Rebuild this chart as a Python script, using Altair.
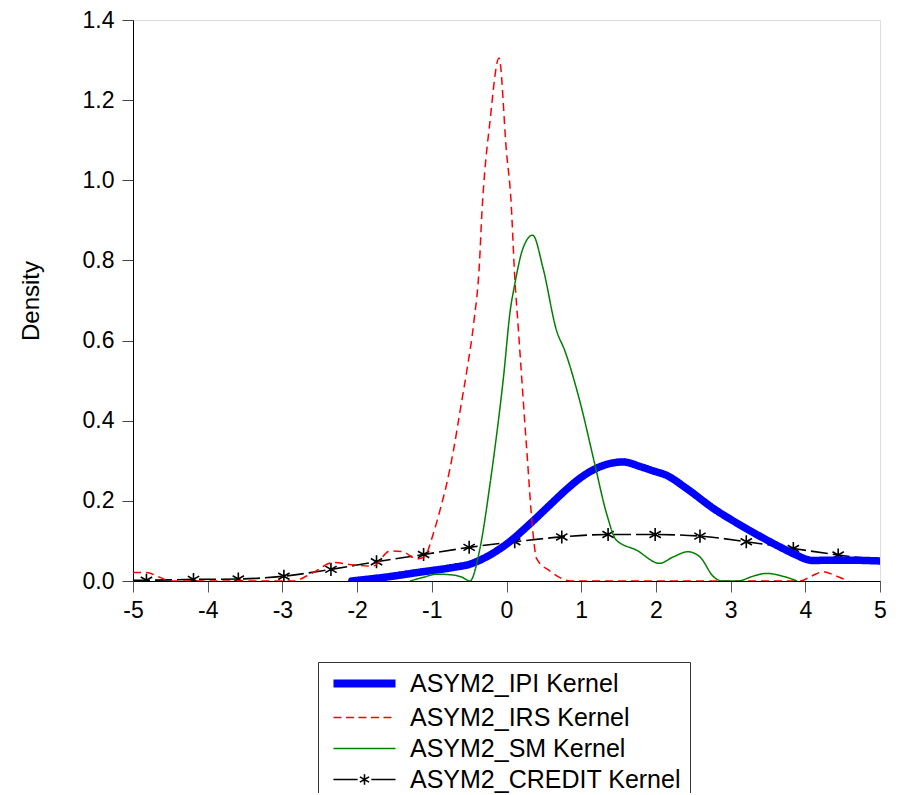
import altair as alt
import pandas as pd

# ---- data ----
names = ["ASYM2_IPI Kernel", "ASYM2_IRS Kernel", "ASYM2_SM Kernel", "ASYM2_CREDIT Kernel"]
colors = ["#0000ff", "#ff0000", "#008000", "#000000"]
dash_styles = {"ASYM2_CREDIT Kernel": [17, 5], "ASYM2_IPI Kernel": [1, 0],
               "ASYM2_IRS Kernel": [8, 5], "ASYM2_SM Kernel": [1, 0]}

ipi_x = [-2.07, -1.6, -1.16, -0.71, -0.49, -0.27, 0.0, 0.31, 0.56, 0.8, 0.98, 1.25, 1.56,
         1.8, 1.96, 2.14, 2.41, 2.77, 3.21, 3.66, 3.9, 4.0, 4.1, 4.3, 4.55, 5.0]
ipi_y = [0.0, 0.01, 0.022, 0.034, 0.042, 0.06, 0.092, 0.142, 0.186, 0.228, 0.256, 0.285, 0.297,
         0.285, 0.275, 0.264, 0.231, 0.181, 0.131, 0.085, 0.063, 0.055, 0.051, 0.052, 0.052, 0.05]

irs_x = [-5.0, -4.82, -4.65, -4.5, -3.5, -2.86, -2.6, -2.32, -2.05, -1.79, -1.56, -1.39, -1.2,
         -1.1, -0.98, -0.89, -0.8, -0.71, -0.62, -0.53, -0.44, -0.36, -0.33, -0.29, -0.23, -0.1,
         0.0, 0.06, 0.11, 0.16, 0.27, 0.36, 0.40, 0.58, 0.87, 3.93, 4.08, 4.24, 4.42, 4.58]
irs_y = [0.021, 0.021, 0.01, 0.0, 0.0, 0.0, 0.02, 0.046, 0.04, 0.037, 0.075, 0.073, 0.055,
         0.06, 0.118, 0.177, 0.243, 0.326, 0.426, 0.526, 0.642, 0.80, 0.917, 1.024, 1.132, 1.305,
         1.07, 0.95, 0.76, 0.625, 0.33, 0.11, 0.057, 0.025, 0.0, 0.0, 0.012, 0.023, 0.012, 0.0]

sm_x = [-1.29, -1.1, -0.93, -0.72, -0.6, -0.49, -0.36, -0.22, -0.13, -0.04, 0.05, 0.11, 0.22,
        0.35, 0.49, 0.67, 0.78, 0.98, 1.18, 1.34, 1.47, 1.74, 2.05, 2.23, 2.43, 2.59, 2.77, 2.88,
        3.1, 3.3, 3.48, 3.7, 3.89]
sm_y = [0.0, 0.01, 0.017, 0.015, 0.01, 0.0, 0.077, 0.243, 0.368, 0.509, 0.675, 0.74, 0.83,
        0.863, 0.78, 0.625, 0.575, 0.45, 0.293, 0.168, 0.102, 0.077, 0.044, 0.06, 0.073, 0.06,
        0.011, 0.0, 0.0, 0.012, 0.019, 0.012, 0.0]

credit_x = [-5.0, -4.82, -4.19, -3.59, -2.98, -2.35, -1.74, -1.11, -0.5, 0.11, 0.74, 1.36,
            1.99, 2.59, 3.21, 3.84, 4.44, 5.0]
credit_y = [0.002, 0.002, 0.004, 0.005, 0.012, 0.029, 0.048, 0.066, 0.084, 0.098, 0.110, 0.116,
            0.116, 0.112, 0.098, 0.081, 0.065, 0.052]

x_ticks = [-5, -4, -3, -2, -1, 0, 1, 2, 3, 4, 5]
y_ticks = [0.0, 0.2, 0.4, 0.6, 0.8, 1.0, 1.2, 1.4]

# ---- tables ----
series_data = {
    names[3]: (credit_x, credit_y),
    names[0]: (ipi_x, ipi_y),
    names[1]: (irs_x, irs_y),
    names[2]: (sm_x, sm_y),
}
rows = []
for name, (xs, ys) in series_data.items():
    for i, (a, b) in enumerate(zip(xs, ys)):
        rows.append({"series": name, "x": a, "y": b, "order": i})
df = pd.DataFrame(rows)
markers = pd.DataFrame({"x": credit_x[1:-1], "y": credit_y[1:-1]})

dash_domain = sorted(dash_styles)
dash_range = [dash_styles[k] for k in dash_domain]

FONT = "Liberation Sans"
STAR = "M0,-1V1M-0.87,-0.5L0.87,0.5M-0.87,0.5L0.87,-0.5"
LEG_LINE = "M-2.82,0H2.82"
LEG_CREDIT = ("M-2.82,0H-0.62M0.62,0H2.82M0,-0.48V0.48M-0.42,-0.24L0.42,0.24"
              "M-0.42,0.24L0.42,-0.24")

xscale = alt.Scale(domain=[-5, 5], nice=False)
yscale = alt.Scale(domain=[0, 1.4], nice=False)

xaxis = alt.Axis(values=x_ticks, title=None, labelFontSize=23, labelFont=FONT,
                 labelColor="#000", tickSize=11, tickColor="#555", labelPadding=7,
                 domainColor="#000", grid=False, labelFlush=False,
                 labelExpr="'' + datum.value")
yaxis = alt.Axis(values=y_ticks, title="Density", format=".1f", labelFontSize=23,
                 labelFont=FONT, labelColor="#000", tickSize=11, tickColor="#444",
                 labelPadding=8, domainColor="#000", grid=False, titleFontSize=24,
                 titleFont=FONT, titleFontWeight="normal", titleColor="#000",
                 titlePadding=39)

legend = alt.Legend(
    title=None, orient="none", legendX=185, legendY=642,
    labelFontSize=25, labelFont=FONT, labelColor="#000", labelLimit=500,
    symbolSize=484, symbolOffset=25, labelOffset=33, rowPadding=5, padding=9,
    strokeColor="#333", fillColor="#ffffff",
    symbolType={"expr": "datum.value == 'ASYM2_CREDIT Kernel' ? '" + LEG_CREDIT + "' : '" + LEG_LINE + "'"},
    symbolStrokeWidth={"expr": "datum.value == 'ASYM2_IPI Kernel' ? 8 : 1.6"},
    symbolDash={"expr": "datum.value == 'ASYM2_IRS Kernel' ? [8, 4.5] : [1, 0]"},
)

color = alt.Color("series:N", scale=alt.Scale(domain=names, range=colors), legend=legend)
dash = alt.StrokeDash("dash_key:N", scale=alt.Scale(domain=dash_domain, range=dash_range),
                      legend=None)


def line_layer(series_list, width, cap="butt"):
    return alt.Chart(df).transform_filter(
        alt.FieldOneOfPredicate(field="series", oneOf=series_list)
    ).transform_calculate(dash_key="datum.series").mark_line(
        interpolate="monotone", strokeJoin="round", strokeCap=cap,
        strokeWidth=width, clip=True).encode(
        x=alt.X("x:Q", scale=xscale, axis=xaxis),
        y=alt.Y("y:Q", scale=yscale, axis=yaxis),
        color=color,
        strokeDash=dash,
        order="order:Q",
    )


credit_line = line_layer([names[3]], 1.6)
ipi_line = line_layer([names[0]], 7.5, cap="round")
other_lines = line_layer([names[1], names[2]], 1.5)

stars = alt.Chart(markers).mark_point(shape=STAR, size=170, filled=False, stroke="#000",
                                      strokeWidth=1.6, opacity=1, clip=True).encode(
    x=alt.X("x:Q", scale=xscale),
    y=alt.Y("y:Q", scale=yscale),
)

chart = alt.layer(credit_line, stars, ipi_line, other_lines).properties(
    width=747, height=561,
    padding={"left": 125, "top": 12, "right": 11, "bottom": 212},
    autosize=alt.AutoSizeParams(type="none"),
).configure_view(stroke="#000", strokeWidth=1.5).configure(background="white")

chart.save("out.html", embed_options={"renderer": "svg", "actions": False})
